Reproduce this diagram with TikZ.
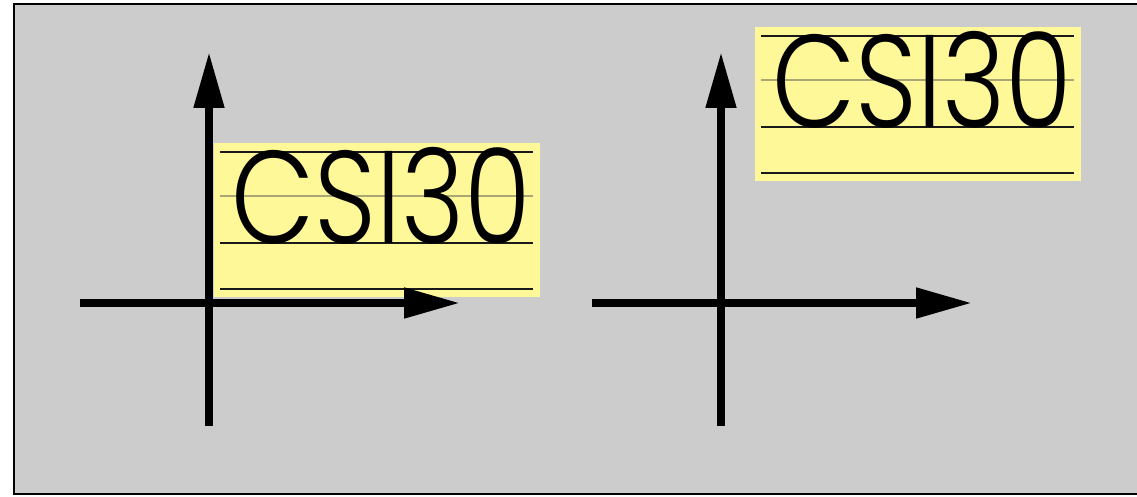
\documentclass[tikz,border=0pt]{standalone}
\usepackage{fontspec}
\newfontfamily\tagfont{Poppins}[UprightFont=* Light]
\usetikzlibrary{arrows.meta}

\definecolor{panelgray}{HTML}{CCCCCC}
\definecolor{notepaper}{HTML}{FFF899}
\definecolor{midrule}{HTML}{A9A775}

\tikzset{
  axis/.style={line width=0.16cm, -{Triangle[length=1.12cm, width=0.58cm]}},
  axisplain/.style={line width=0.16cm},
  rule/.style={line width=1.6pt, black!90},
  pics/tag/.style={code={
    \fill [notepaper] (0, 0) rectangle (326, 154);
    \draw [rule] (6, 9) -- (319, 9);
    \draw [line width=1.6pt, midrule] (6, 53) -- (319, 53);
    \draw [rule] (6, 100) -- (319, 100);
    \draw [rule] (6, 146) -- (319, 146);
    \node (-word) [anchor=base west, inner sep=0pt, xscale=0.82, font=\tagfont\fontsize{75}{75}\selectfont] at (17, 100) {CSI30};
  }}
}

\begin{document}
\begin{tikzpicture}[x=0.02cm, y=-0.02cm]
\useasboundingbox (0, 0) rectangle (1137, 497);
\begin{scope}
\clip (0, 0) rectangle (1137, 497);
\draw [fill=panelgray, line width=1.2pt] (14, 4) rectangle (1142, 494);
\end{scope}
% left: label sits on the origin
\pic (left) at (214, 143) {tag};
\coordinate (lo) at (209, 303);
\draw [axisplain] (209, 426) -- (lo);
\draw [axis] (lo) -- (209, 52);
\draw [axis] (80, 303) -- (460, 303);
% right: label lifted away
\pic (right) at (755, 27) {tag};
\coordinate (ro) at (721, 303);
\draw [axisplain] (721, 426) -- (ro);
\draw [axis] (ro) -- (721, 52);
\draw [axis] (592, 303) -- (972, 303);
\end{tikzpicture}
\end{document}
